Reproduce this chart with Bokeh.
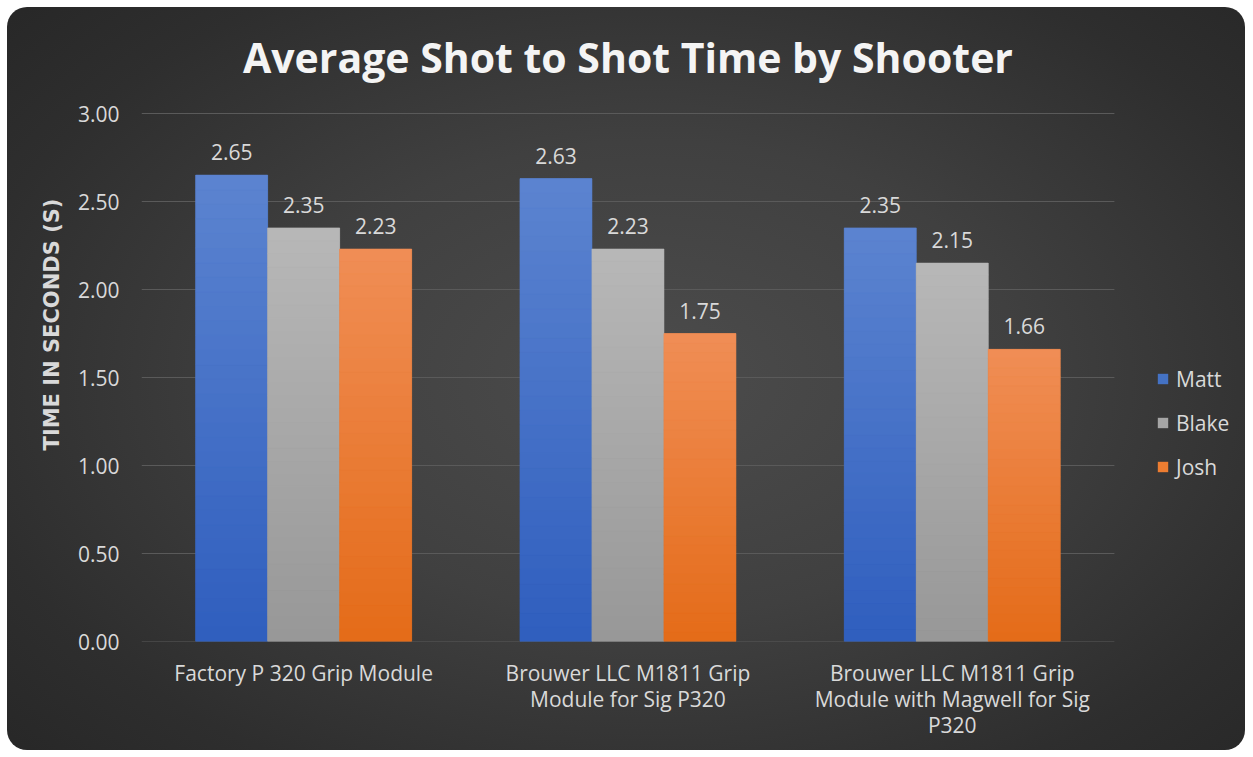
from bokeh.plotting import figure
from bokeh.models import (ColumnDataSource, Range1d, FixedTicker, NumeralTickFormatter,
                          LabelSet, Label, Legend, LegendItem)
from bokeh.core.properties import value
from bokeh.transform import dodge
from bokeh.embed import file_html
from bokeh.resources import INLINE

# ---- data ----
title = "Average Shot to Shot Time by Shooter"
categories = [
    "Factory P 320 Grip Module",
    "Brouwer LLC M1811 Grip\nModule for Sig P320",
    "Brouwer LLC M1811 Grip\nModule with Magwell for Sig\nP320",
]
series = ["Matt", "Blake", "Josh"]
matt = [2.65, 2.63, 2.35]
blake = [2.35, 2.23, 2.15]
josh = [2.23, 1.75, 1.66]
y_ticks = [0.0, 0.5, 1.0, 1.5, 2.0, 2.5, 3.0]
y_label = "TIME IN SECONDS (S)"

values = {"Matt": matt, "Blake": blake, "Josh": josh}
x_pos = [i + 0.5 for i in range(len(categories))]

# ---- style / layout ----
mid_colors = {"Matt": "#4472C4", "Blake": "#A5A5A5", "Josh": "#ED7D31"}
top_colors = {"Matt": (0x5C, 0x84, 0xD0), "Blake": (0xB7, 0xB7, 0xB7), "Josh": (0xF0, 0x8E, 0x56)}
bot_colors = {"Matt": (0x2F, 0x5E, 0xBE), "Blake": (0x98, 0x98, 0x98), "Josh": (0xE4, 0x6B, 0x18)}
BAR_W = 0.222
N_SLICES = 32
FONT = "Open Sans"
TXT = "#d9d9d9"
W, H = 1238, 743
LEFT, BOTTOM = 134, 109
PX_PER_CAT = 324.3          # pixel width of one category slot
PX_PER_UNIT = 176.0         # pixel height of 1 second
x_end = (W - LEFT) / PX_PER_CAT
y_end = (H - BOTTOM) / PX_PER_UNIT

p = figure(
    x_range=Range1d(0, x_end), y_range=Range1d(0, y_end),
    width=W, height=H,
    output_backend="svg", toolbar_location=None,
    min_border_left=LEFT, min_border_right=0,
    min_border_top=0, min_border_bottom=BOTTOM,
)
p.margin = (7, 0, 0, 7)
p.border_fill_alpha = 0
p.background_fill_alpha = 0
p.outline_line_color = None
p.styles = {
    "background": "radial-gradient(ellipse 75% 80% at 52% 50%, #4c4c4c 0%, #404040 40%, #2e2e2e 75%, #252525 100%)",
    "border-radius": "20px",
    "overflow": "hidden",
}

p.xgrid.visible = False
p.ygrid.visible = False
# horizontal gridlines over the category area only
p.segment(x0=0, x1=len(categories), y0="y", y1="y", source=ColumnDataSource(dict(y=y_ticks)),
          line_color="#5a5a5a", line_width=1)

p.yaxis.ticker = FixedTicker(ticks=y_ticks)
p.yaxis.formatter = NumeralTickFormatter(format="0.00")
p.xaxis.ticker = FixedTicker(ticks=x_pos)
p.xaxis.major_label_overrides = {x: c for x, c in zip(x_pos, categories)}
for ax in (p.xaxis[0], p.yaxis[0]):
    ax.axis_line_color = None
    ax.major_tick_line_color = None
    ax.minor_tick_line_color = None
    ax.major_label_text_color = TXT
    ax.major_label_text_font = FONT
    ax.major_label_text_font_size = "21px"
p.yaxis.major_label_standoff = 16
p.yaxis.axis_label = y_label
p.yaxis.axis_label_text_font = "DejaVu Sans"
p.yaxis.axis_label_text_font_size = "21px"
p.yaxis.axis_label_text_font_style = "bold"
p.yaxis.axis_label_text_color = TXT
p.yaxis.axis_label_standoff = 11
p.xaxis.major_label_standoff = 11
p.xaxis.major_label_text_line_height = 0.94


def lerp(a, b, t):
    return "#%02x%02x%02x" % tuple(int(round(a[j] + (b[j] - a[j]) * t)) for j in range(3))


legend_items = []
for i, s in enumerate(series):
    off = (i - 1) * BAR_W
    vals = values[s]
    src = ColumnDataSource(dict(x=x_pos, val=vals, lbl=["%.2f" % v for v in vals]))
    solid = p.vbar(x=dodge("x", off), top="val", width=BAR_W,
                   source=src, fill_color=mid_colors[s], line_color=None)
    legend_items.append(LegendItem(label=s, renderers=[solid]))

    xs, bots, tops, cols = [], [], [], []
    for x, v in zip(x_pos, vals):
        for k in range(N_SLICES):
            xs.append(x)
            bots.append(v * k / N_SLICES)
            tops.append(v * (k + 1) / N_SLICES)
            cols.append(lerp(bot_colors[s], top_colors[s], (k + 0.5) / N_SLICES))
    ssrc = ColumnDataSource(dict(x=xs, b=bots, t=tops, c=cols))
    p.vbar(x=dodge("x", off), bottom="b", top="t", width=BAR_W,
           source=ssrc, fill_color="c", line_color="c", line_width=0.6)

    p.add_layout(LabelSet(x=dodge("x", off), y="val", text="lbl",
                          source=src, text_align="center", text_baseline="alphabetic",
                          y_offset=15, text_font=value(FONT), text_font_size="21px",
                          text_color=TXT))

# chart title
p.add_layout(Label(x=len(categories) / 2, y=H - BOTTOM - 49, x_units="data", y_units="screen",
                   text=title, text_align="center", text_baseline="middle",
                   text_font=FONT, text_font_size="41px", text_font_style="bold",
                   text_color="#f4f4f4"))

legend = Legend(items=legend_items, location=(1015, 159.5), orientation="vertical",
                label_text_font=FONT, label_text_font_size="21px", label_text_color=TXT,
                glyph_width=13, glyph_height=13, label_height=30, label_width=60,
                label_standoff=7, spacing=14, padding=0, margin=0,
                border_line_color=None, background_fill_alpha=0)
p.add_layout(legend, "center")

open("out.html", "w").write(file_html(p, INLINE))
